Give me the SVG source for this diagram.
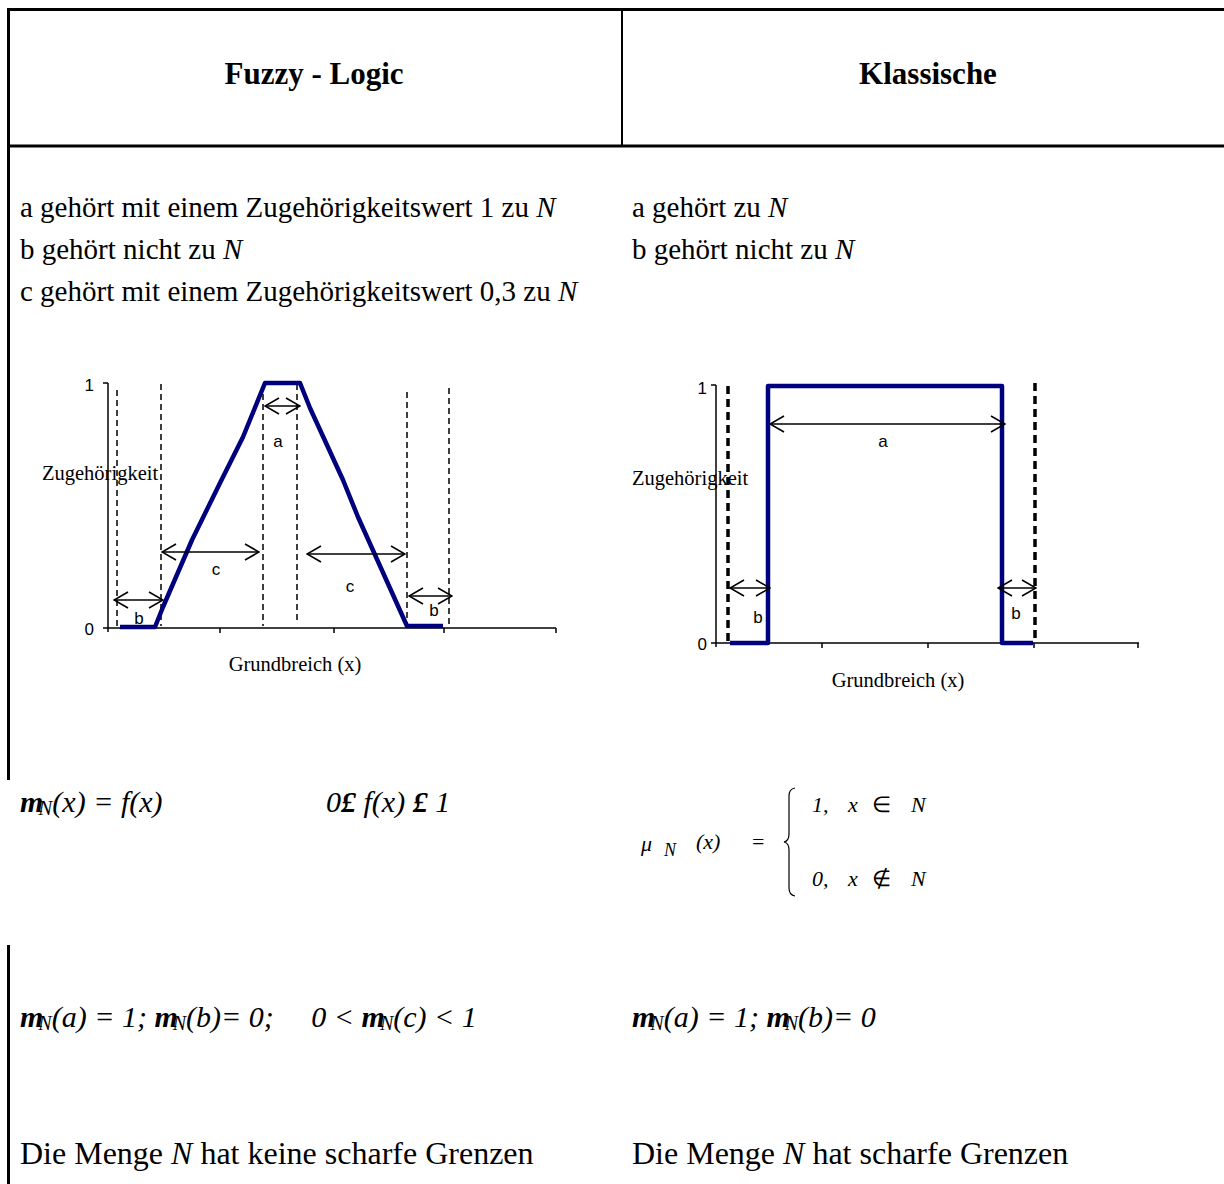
<svg xmlns="http://www.w3.org/2000/svg" width="1224" height="1184" viewBox="0 0 1224 1184">
<defs>
<style>
.t{font-family:"Liberation Serif","Times New Roman",serif;fill:#000;white-space:pre}
.h{font-size:31px;font-weight:bold}
.b{font-size:29px}
.c{font-size:32px}
.f{font-size:30px;font-style:italic}
.k{font-size:22px}
.s{font-family:"Liberation Sans",Arial,sans-serif;font-size:17px;fill:#000}
.sm{font-size:20.5px}
.ax{stroke:#000;stroke-width:1.5;fill:none}
.dash{stroke:#000;stroke-width:1.5;stroke-dasharray:6 4;fill:none}
.dashk{stroke:#000;stroke-width:3.5;stroke-dasharray:8 5;fill:none}
.mf{stroke:#00007f;stroke-width:4.5;fill:none;stroke-linejoin:round}
.dim{stroke:#000;stroke-width:1.5;fill:none;marker-start:url(#ah);marker-end:url(#ah)}
.bd{stroke:#000;fill:none}
</style>
<marker id="ah" markerUnits="userSpaceOnUse" viewBox="0 0 16 18" refX="15" refY="9" markerWidth="16" markerHeight="18" orient="auto-start-reverse">
<path d="M1,1 L15,9 L1,17" fill="none" stroke="#000" stroke-width="1.6"/>
</marker>
</defs>

<g id="table">
<line class="bd" x1="7" y1="9.5" x2="1224" y2="9.5" stroke-width="3"/>
<line class="bd" x1="7" y1="146" x2="1224" y2="146" stroke-width="3"/>
<line class="bd" x1="622" y1="9" x2="622" y2="146" stroke-width="2"/>
<line class="bd" x1="8.5" y1="8" x2="8.5" y2="780" stroke-width="3"/>
<line class="bd" x1="8.5" y1="945" x2="8.5" y2="1184" stroke-width="3"/>
</g>

<g id="header-fuzzy"><text class="t h" x="314" y="84" text-anchor="middle">Fuzzy - Logic</text></g>
<g id="header-klassisch"><text class="t h" x="928" y="84" text-anchor="middle">Klassische</text></g>

<g id="text-fuzzy">
<text class="t b" x="20" y="217">a gehört mit einem Zugehörigkeitswert 1 zu <tspan font-style="italic">N</tspan></text>
<text class="t b" x="20" y="259">b gehört nicht zu <tspan font-style="italic">N</tspan></text>
<text class="t b" x="20" y="301">c gehört mit einem Zugehörigkeitswert 0,3 zu <tspan font-style="italic">N</tspan></text>
</g>
<g id="text-klassisch">
<text class="t b" x="632" y="217">a gehört zu <tspan font-style="italic">N</tspan></text>
<text class="t b" x="632" y="259">b gehört nicht zu <tspan font-style="italic">N</tspan></text>
</g>

<g id="chart-fuzzy">
<line class="ax" x1="108" y1="383" x2="108" y2="632"/>
<line class="ax" x1="103" y1="383" x2="108" y2="383"/>
<line class="ax" x1="103" y1="628" x2="556" y2="628"/>
<line class="ax" x1="220" y1="628" x2="220" y2="633"/>
<line class="ax" x1="334" y1="628" x2="334" y2="633"/>
<line class="ax" x1="444" y1="628" x2="444" y2="633"/>
<line class="ax" x1="556" y1="628" x2="556" y2="633"/>
<text class="s" x="94" y="391" text-anchor="end">1</text>
<text class="s" x="94" y="635" text-anchor="end">0</text>
<line class="dash" x1="117" y1="390" x2="117" y2="626"/>
<line class="dash" x1="161" y1="384" x2="161" y2="626"/>
<line class="dash" x1="263" y1="384" x2="263" y2="626"/>
<line class="dash" x1="297" y1="384" x2="297" y2="622"/>
<line class="dash" x1="407" y1="392" x2="407" y2="626"/>
<line class="dash" x1="449" y1="388" x2="449" y2="626"/>
<polyline class="mf" points="120,627 155,627 163,607 192,540 220,483 243,437 265,383 300,383 310,408 343,480 358,517 407,626 443,626"/>
<text class="t sm" x="42" y="480">Zugehörigkeit</text>
<text class="t sm" x="295" y="671" text-anchor="middle">Grundbreich (x)</text>
<text class="s" x="139" y="624" text-anchor="middle">b</text>
<text class="s" x="216" y="575" text-anchor="middle">c</text>
<text class="s" x="278" y="447" text-anchor="middle">a</text>
<text class="s" x="350" y="592" text-anchor="middle">c</text>
<text class="s" x="434" y="616" text-anchor="middle">b</text>
</g>

<g id="chart-klassisch">
<line class="ax" x1="716" y1="385" x2="716" y2="647"/>
<line class="ax" x1="711" y1="385" x2="716" y2="385"/>
<line class="ax" x1="711" y1="643" x2="1139" y2="643"/>
<line class="ax" x1="822" y1="643" x2="822" y2="648"/>
<line class="ax" x1="928" y1="643" x2="928" y2="648"/>
<line class="ax" x1="1034" y1="643" x2="1034" y2="648"/>
<line class="ax" x1="1138" y1="643" x2="1138" y2="648"/>
<text class="s" x="707" y="394" text-anchor="end">1</text>
<text class="s" x="707" y="650" text-anchor="end">0</text>
<line class="dashk" x1="728" y1="386" x2="728" y2="643"/>
<line class="dashk" x1="1035" y1="383" x2="1035" y2="643"/>
<polyline class="mf" points="730,643 768,643 768,386 1002,386 1002,643 1033,643"/>
<text class="t sm" x="632" y="485">Zugehörigkeit</text>
<text class="t sm" x="898" y="687" text-anchor="middle">Grundbreich (x)</text>
<text class="s" x="883" y="447" text-anchor="middle">a</text>
<text class="s" x="758" y="623" text-anchor="middle">b</text>
<text class="s" x="1016" y="619" text-anchor="middle">b</text>
</g>

<g id="connectors">
<line class="dim" x1="114" y1="600" x2="163" y2="600"/>
<line class="dim" x1="162" y1="552" x2="259" y2="552"/>
<line class="dim" x1="265" y1="406" x2="300" y2="406"/>
<line class="dim" x1="307" y1="554" x2="405" y2="554"/>
<line class="dim" x1="409" y1="596" x2="452" y2="596"/>
<line class="dim" x1="770" y1="424" x2="1005" y2="424"/>
<line class="dim" x1="730" y1="588" x2="770" y2="588"/>
<line class="dim" x1="998" y1="588" x2="1036" y2="588"/>
</g>

<g id="formula-fuzzy-1">
<text class="t f" font-size="31" x="20" y="812"><tspan font-weight="bold">m</tspan><tspan font-size="21" dx="-5" dy="3">N</tspan><tspan dy="-3">(x) = f(x)</tspan></text>
<text class="t f" font-size="31" x="326" y="812">0<tspan font-weight="bold">£</tspan> f(x) <tspan font-weight="bold">£</tspan> 1</text>
</g>

<g id="formula-klassisch-1">
<text class="t k" font-style="italic" x="641" y="851">μ</text>
<text class="t" font-style="italic" font-size="18" x="664" y="856">N</text>
<text class="t k" font-style="italic" x="696" y="849">(x)</text>
<text class="t k" x="752" y="849">=</text>
<path d="M795,788 Q789,789 789,796 L789,834 Q789,841 784,842 Q789,843 789,850 L789,888 Q789,895 795,896" fill="none" stroke="#000" stroke-width="1.2"/>
<text class="t k" font-style="italic" x="812" y="812">1,</text>
<text class="t k" font-style="italic" x="848" y="812">x</text>
<text class="t k" x="872" y="812">∈</text>
<text class="t k" font-style="italic" x="911" y="812">N</text>
<text class="t k" font-style="italic" x="812" y="886">0,</text>
<text class="t k" font-style="italic" x="848" y="886">x</text>
<text class="t k" x="872" y="886">∉</text>
<text class="t k" font-style="italic" x="911" y="886">N</text>
</g>

<g id="formula-fuzzy-2">
<text class="t f" x="20" y="1027"><tspan font-weight="bold">m</tspan><tspan font-size="20" dx="-5" dy="3">N</tspan><tspan dy="-3">(a) = 1; </tspan><tspan font-weight="bold">m</tspan><tspan font-size="20" dx="-5" dy="3">N</tspan><tspan dy="-3">(b)= 0;     0 &lt; </tspan><tspan font-weight="bold">m</tspan><tspan font-size="20" dx="-5" dy="3">N</tspan><tspan dy="-3">(c) &lt; 1</tspan></text>
</g>
<g id="formula-klassisch-2">
<text class="t f" x="632" y="1027"><tspan font-weight="bold">m</tspan><tspan font-size="20" dx="-5" dy="3">N</tspan><tspan dy="-3">(a) = 1; </tspan><tspan font-weight="bold">m</tspan><tspan font-size="20" dx="-5" dy="3">N</tspan><tspan dy="-3">(b)= 0</tspan></text>
</g>

<g id="conclusion-fuzzy"><text class="t c" x="20" y="1164">Die Menge <tspan font-style="italic">N</tspan> hat keine scharfe Grenzen</text></g>
<g id="conclusion-klassisch"><text class="t c" x="632" y="1164">Die Menge <tspan font-style="italic">N</tspan> hat scharfe Grenzen</text></g>
</svg>
